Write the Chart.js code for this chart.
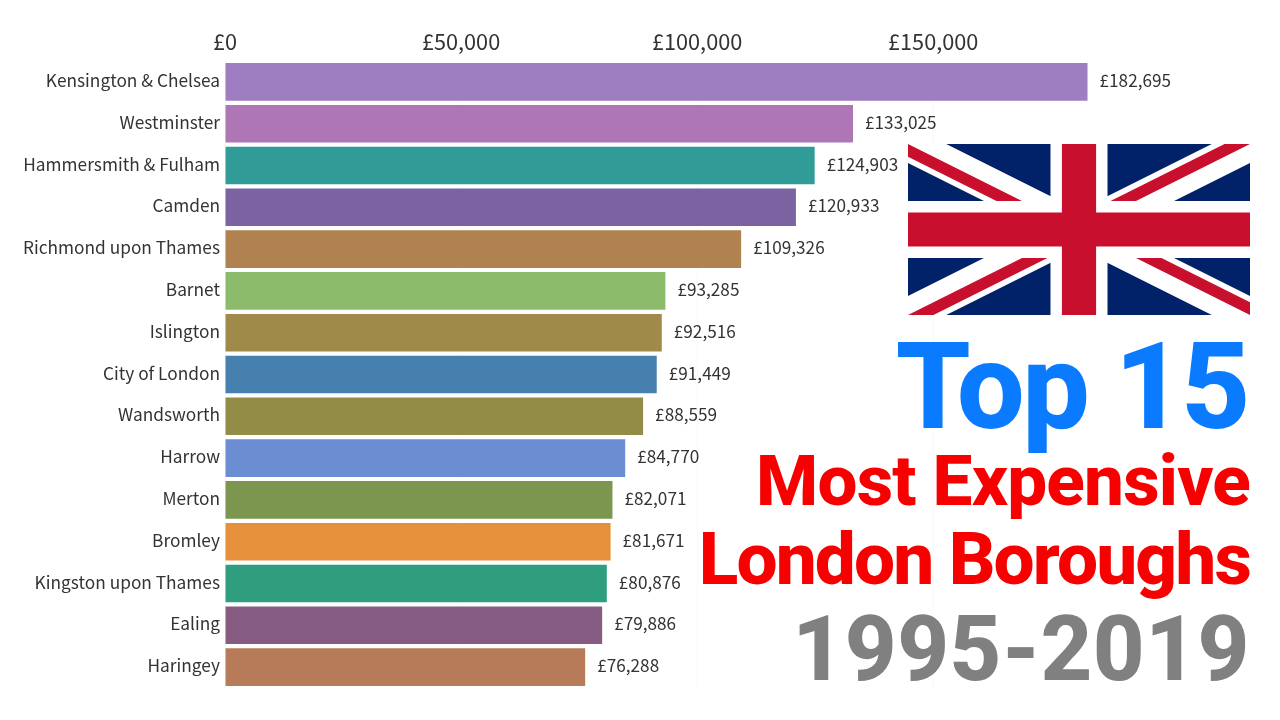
<!DOCTYPE html>
<html>
<head>
<meta charset="utf-8">
<title>Top 15 Most Expensive London Boroughs 1995-2019</title>
<script src="https://cdn.jsdelivr.net/npm/chart.js@4/dist/chart.umd.min.js"></script>
<style>
  html, body { margin: 0; padding: 0; background: #fff; }
  #wrap { position: relative; width: 1280px; height: 720px; overflow: hidden; }
  #grafico { position: absolute; left: 0; top: 0; }
  #flag { position: absolute; left: 908px; top: 144px; }
  .head { position: absolute; right: 30px; white-space: nowrap; font-family: Roboto, sans-serif; font-weight: 800; line-height: 1; }
  #h1 { top: 327px; right: 32px; font-size: 120px; color: #0a7bff; letter-spacing: -2.5px; }
  #h2 { top: 445px; font-size: 71px; color: #f70000; letter-spacing: -0.8px; }
  #h3 { top: 523px; font-size: 73px; color: #f70000; letter-spacing: -1.9px; }
  #h4 { top: 605px; font-size: 90px; color: #808080; letter-spacing: 0.5px; }
</style>
</head>
<body>
<div id="wrap">
  <canvas id="grafico" width="1280" height="720"></canvas>
  <svg id="flag" width="342" height="171" viewBox="0 0 60 30">
    <clipPath id="s"><path d="M0,0 v30 h60 v-30 z"/></clipPath>
    <clipPath id="t"><path d="M30,15 h30 v15 z v15 h-30 z h-30 v-15 z v-15 h30 z"/></clipPath>
    <g clip-path="url(#s)">
      <path d="M0,0 v30 h60 v-30 z" fill="#012169"/>
      <path d="M0,0 L60,30 M60,0 L0,30" stroke="#fff" stroke-width="6"/>
      <path d="M0,0 L60,30 M60,0 L0,30" clip-path="url(#t)" stroke="#c8102e" stroke-width="4"/>
      <path d="M30,0 v30 M0,15 h60" stroke="#fff" stroke-width="10"/>
      <path d="M30,0 v30 M0,15 h60" stroke="#c8102e" stroke-width="6"/>
    </g>
  </svg>
  <div class="head" id="h1">Top 15</div>
  <div class="head" id="h2">Most Expensive</div>
  <div class="head" id="h3">London Boroughs</div>
  <div class="head" id="h4">1995-2019</div>
</div>
<script>
const boroughs = ["Kensington & Chelsea", "Westminster", "Hammersmith & Fulham", "Camden", "Richmond upon Thames",
  "Barnet", "Islington", "City of London", "Wandsworth", "Harrow", "Merton", "Bromley",
  "Kingston upon Thames", "Ealing", "Haringey"];
const prices = [182695, 133025, 124903, 120933, 109326, 93285, 92516, 91449, 88559, 84770, 82071, 81671, 80876, 79886, 76288];
const colores = ["#9f7dc1", "#ae76b5", "#309b97", "#7b62a1", "#b0824f", "#8dbb6c", "#9f8a49", "#4680ae",
  "#938c47", "#6b8dd2", "#7c964f", "#e6903c", "#2e9e7f", "#875c82", "#b87b59"];
const xTicks = [0, 50000, 100000, 150000];

const fuente = '"Noto Sans CJK JP", "Noto Sans", sans-serif';
const libras = v => "£" + v.toLocaleString("en-GB");

// price printed just past the end of each bar
const valoresPlugin = {
  id: "valores",
  afterDatasetsDraw(chart) {
    const ctx = chart.ctx;
    const x = chart.scales.x, y = chart.scales.y;
    ctx.save();
    ctx.font = "17.2px " + fuente;
    ctx.fillStyle = "#333";
    ctx.textAlign = "left";
    ctx.textBaseline = "middle";
    prices.forEach((p, i) => {
      ctx.fillText(libras(p), x.getPixelForValue(p) + 12, y.getPixelForValue(i) - 1.5);
    });
    ctx.restore();
  }
};

new Chart("grafico", {
  type: "bar",
  data: {
    labels: boroughs,
    datasets: [{ data: prices, backgroundColor: colores, categoryPercentage: 0.9, barPercentage: 1 }]
  },
  options: {
    indexAxis: "y",
    responsive: false,
    animation: false,
    layout: { padding: { top: 0, right: 158, bottom: 32, left: 0 } },
    plugins: { legend: { display: false }, tooltip: { enabled: false } },
    scales: {
      x: {
        position: "top",
        min: 0,
        max: 190000,
        afterBuildTicks: axis => { axis.ticks = xTicks.map(v => ({ value: v })); },
        afterFit: axis => { axis.height = 61; },
        border: { display: false },
        grid: { color: "#f9f9f9", drawTicks: false },
        ticks: { maxRotation: 0, padding: 6, color: "#333", font: { family: fuente, size: 21.7 }, callback: libras }
      },
      y: {
        afterFit: axis => { axis.width = 225; },
        border: { display: false },
        grid: { display: false, drawTicks: false },
        ticks: { autoSkip: false, padding: 5, labelOffset: -1.5, color: "#333", font: { family: fuente, size: 17.3 } }
      }
    }
  },
  plugins: [valoresPlugin]
});
</script>
</body>
</html>
